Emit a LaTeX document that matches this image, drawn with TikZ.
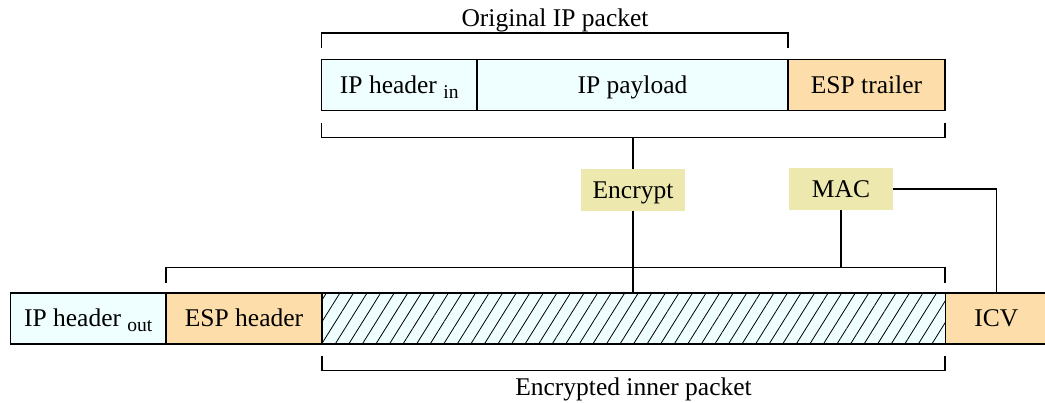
\documentclass[tikz,border=0pt]{standalone}
\usepackage{fontspec}
\setmainfont{Liberation Serif}
\usetikzlibrary{patterns.meta}
\definecolor{paleCyan}{HTML}{EFFEFE}
\definecolor{peach}{HTML}{FDDDA9}
\definecolor{khaki}{HTML}{ECE8AE}
% lowered, smaller index text (header_in, header_out)
\newcommand{\lowsub}[1]{\raisebox{-5pt}{\fontsize{19.5}{19.5}\selectfont #1}}

\begin{document}
\begin{tikzpicture}[x=1pt,y=-1pt,
  font=\fontsize{25.5}{30}\selectfont,
  field/.style={draw, line width=1.5pt, minimum height=51pt, inner sep=0pt,
                text height=17pt, text depth=0pt, anchor=center},
  opbox/.style={fill=khaki, inner sep=0pt, text height=17pt, text depth=0pt,
                minimum width=104pt, minimum height=42pt},
  wire/.style={line width=1.3pt},
  bracket/.style={line width=1.3pt}]

\useasboundingbox (0,0) rectangle (1045,403);

% original packet with ESP trailer
\node[field, fill=paleCyan, minimum width=155.5pt] (hin) at (399.25,85) {IP header \lowsub{in}};
\node[field, fill=paleCyan, minimum width=311pt] (pay) at (632.5,85) {IP payload};
\node[field, fill=peach, minimum width=157pt] (tra) at (866.5,85) {ESP trailer};

% resulting tunnel-mode ESP packet
\node[field, fill=paleCyan, minimum width=155.5pt] (hout) at (88.25,318.5) {IP header \lowsub{out}};
\node[field, fill=peach, minimum width=156pt] (esph) at (244,318.5) {ESP header};
\node[field, preaction={fill=paleCyan},
      pattern={Lines[angle=58,distance=11.5pt,line width=0.8pt]},
      minimum width=623.5pt] (inner) at (633.75,318.5) {};
\node[field, fill=peach, minimum width=101.5pt] (icv) at (996.25,318.5) {ICV};

% operations
\node[opbox] (encr) at (633,189.75) {Encrypt};
\node[opbox] (mac) at (841,189) {MAC};

% labels
\node[anchor=base, inner sep=0pt] (origlbl) at (555,26.5) {Original IP packet};
\node[anchor=base, inner sep=0pt] (innerlbl) at (633.5,396) {Encrypted inner packet};

% bracket end points
\coordinate (ob1) at (321.5,48);
\coordinate (ob2) at (788,48);
\coordinate (pb1) at (321.5,123);
\coordinate (pb2) at (945,123);
\coordinate (pmid) at (633,137.5);
\coordinate (ab1) at (166,283);
\coordinate (ab2) at (945,283);
\coordinate (amid) at (841,267.5);
\coordinate (eb1) at (322,356);
\coordinate (eb2) at (945,356);

% brackets
\draw[bracket] (ob1) -- ++(0,-15) -| (ob2);
\draw[bracket] (pb1) -- ++(0,14.5) -| (pb2);
\draw[bracket] (ab1) -- ++(0,-15.5) -| (ab2);
\draw[bracket] (eb1) -- ++(0,14.5) -| (eb2);

% processing paths
\draw[wire] (pmid) -- (encr.north);
\draw[wire] (encr.south) -- (encr.south |- inner.north);
\draw[wire] (mac.south) -- (amid);
\draw[wire] (mac.east) -| (icv.north);

\end{tikzpicture}
\end{document}
